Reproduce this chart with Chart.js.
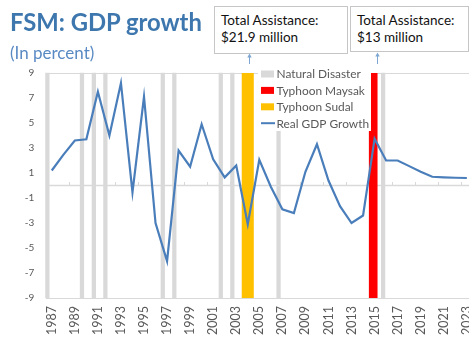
<!DOCTYPE html>
<html>
<head>
<meta charset="utf-8">
<script src="https://cdn.jsdelivr.net/npm/chart.js@4/dist/chart.umd.min.js"></script>
<style>
  html, body { margin: 0; padding: 0; background: #fff; overflow: hidden; }
  #wrap { position: relative; width: 469px; height: 337px; overflow: hidden; }
  #chart { position: absolute; left: 0; top: 0; }
  .title { position: absolute; left: 10px; top: 8px; font: bold 23.8px Lato, sans-serif; color: #3d77ae; white-space: nowrap; }
  .subtitle { position: absolute; left: 10px; top: 42px; font: 17px Lato, sans-serif; color: #5a8ac4; white-space: nowrap; }
  .note { position: absolute; top: 6px; border: 1px solid #c6c6c6; background: #fff; box-sizing: border-box;
          font: 13.5px Lato, sans-serif; color: #111; line-height: 17px; padding: 5px 0 0 6px; white-space: nowrap; }
  #arrows { position: absolute; left: 0; top: 0; }
</style>
</head>
<body>
<div id="wrap">
  <canvas id="chart" width="490" height="337"></canvas>
  <div class="title">FSM: GDP growth</div>
  <div class="subtitle">(In percent)</div>
  <div class="note" style="left:214px; width:134px; height:48px;">Total Assistance:<br>$21.9 million</div>
  <div class="note" style="left:350px; width:119px; height:46px;">Total Assistance:<br>$13 million</div>
  <svg id="arrows" width="469" height="80">
    <g stroke="#7ea6d3" stroke-width="1" fill="#7ea6d3">
      <line x1="249.5" y1="56" x2="249.5" y2="64"/>
      <path d="M247.3 57.5 L249.5 53.5 L251.7 57.5 Z" stroke="none"/>
      <line x1="377.5" y1="55" x2="377.5" y2="64"/>
      <path d="M375.3 56.5 L377.5 52.5 L379.7 56.5 Z" stroke="none"/>
    </g>
  </svg>
</div>
<script>
// Fiscal years on the horizontal axis
const years = [1987, 1988, 1989, 1990, 1991, 1992, 1993, 1994, 1995, 1996,
               1997, 1998, 1999, 2000, 2001, 2002, 2003, 2004, 2005, 2006,
               2007, 2008, 2009, 2010, 2011, 2012, 2013, 2014, 2015, 2016,
               2017, 2018, 2019, 2020, 2021, 2022, 2023];

// Real GDP growth, percent
const gdpGrowth = [1.2, 2.45, 3.6, 3.7, 7.5, 4.0, 8.2, -0.55, 7.1, -3.0,
                   -6.05, 2.8, 1.5, 4.9, 2.1, 0.65, 1.6, -3.1, 2.05, -0.1,
                   -1.9, -2.2, 1.1, 3.3, 0.4, -1.65, -3.0, -2.4, 3.75, 2.0,
                   2.0, 1.55, 1.1, 0.7, 0.65, 0.62, 0.6];

// Natural disaster events (position in years)
const naturalDisasters = [1986.62, 1989.62, 1990.65, 1991.65, 1996.63, 1997.63,
                          2001.66, 2002.66, 2006.67, 2015.74];
// Typhoon events (position in years)
const typhoonMaysak = [2014.88];
const typhoonSudal = [2004.0];

// Axis ticks
const xTickYears = [1987, 1989, 1991, 1993, 1995, 1997, 1999, 2001, 2003, 2005,
                    2007, 2009, 2011, 2013, 2015, 2017, 2019, 2021, 2023];
const yTicks = [-9, -7, -5, -3, -1, 1, 3, 5, 7, 9];
const yMin = -9, yMax = 9;

const band = xs => xs.map(x => ({ x: x, y: [yMin, yMax] }));

const GRID = '#d9d9d9';
const TEXT = '#595959';

// Zero line with small tick marks every two years
const zeroLine = {
  id: 'zeroLine',
  beforeDatasetsDraw(chart) {
    const { ctx, chartArea, scales } = chart;
    const y0 = scales.y.getPixelForValue(0);
    ctx.save();
    ctx.strokeStyle = GRID;
    ctx.lineWidth = 1.5;
    ctx.beginPath();
    ctx.moveTo(chartArea.left, y0);
    ctx.lineTo(chartArea.right, y0);
    ctx.stroke();
    ctx.lineWidth = 1;
    for (let i = 1; i < years.length; i += 2) {
      const x = Math.round(scales.x.getPixelForValue(years[i] + 0.5)) + 0.5;
      ctx.beginPath();
      ctx.moveTo(x, y0);
      ctx.lineTo(x, y0 - 3.5);
      ctx.stroke();
    }
    ctx.restore();
  }
};

// Legend drawn inside the plot
const insideLegend = {
  id: 'insideLegend',
  afterDraw(chart) {
    const { ctx } = chart;
    const x0 = 261, y0 = 74, step = 16.4;
    ctx.save();
    ctx.fillStyle = '#fff';
    ctx.fillRect(258, 66, 113, 65);
    ctx.font = '11.9px Lato, sans-serif';
    ctx.textBaseline = 'middle';
    chart.data.datasets.forEach((ds, i) => {
      const y = y0 + i * step;
      if (ds.type === 'line') {
        ctx.strokeStyle = ds.borderColor;
        ctx.lineWidth = 2;
        ctx.beginPath();
        ctx.moveTo(x0, y);
        ctx.lineTo(x0 + 14, y);
        ctx.stroke();
      } else {
        ctx.fillStyle = ds.backgroundColor;
        ctx.fillRect(x0, y - 3.5, 13, 7);
      }
      ctx.fillStyle = TEXT;
      ctx.fillText(ds.label, x0 + 15.5, y + 0.5);
    });
    ctx.restore();
  }
};

new Chart(document.getElementById('chart'), {
  type: 'line',
  data: {
    datasets: [
      { type: 'bar', label: 'Natural Disaster', data: band(naturalDisasters),
        backgroundColor: '#d9d9d9', barThickness: 3.6, grouped: false, order: 3, clip: false },
      { type: 'bar', label: 'Typhoon Maysak', data: band(typhoonMaysak),
        backgroundColor: '#ff0000', barThickness: 8, grouped: false, order: 2 },
      { type: 'bar', label: 'Typhoon Sudal', data: band(typhoonSudal),
        backgroundColor: '#ffc000', barThickness: 11.4, grouped: false, order: 2 },
      { type: 'line', label: 'Real GDP Growth',
        data: years.map((yr, i) => ({ x: yr, y: gdpGrowth[i] })),
        borderColor: '#4a7ebb', borderWidth: 2.2, pointRadius: 0, tension: 0, fill: false, order: 0 }
    ]
  },
  options: {
    responsive: false,
    animation: false,
    devicePixelRatio: 1,
    layout: { padding: { left: 0, top: 73, right: 12.8, bottom: 0 } },
    plugins: { legend: { display: false }, tooltip: { enabled: false } },
    scales: {
      x: {
        type: 'linear', position: 'bottom', min: 1986.5, max: 2023.5, offset: false,
        afterBuildTicks: s => { s.ticks = xTickYears.map(v => ({ value: v })); },
        afterFit: s => { s.height = 39; },
        grid: { display: false, drawTicks: false },
        border: { display: false },
        ticks: { autoSkip: false, minRotation: 90, maxRotation: 90, padding: 8,
                 color: TEXT, font: { family: 'Lato', size: 12.5 },
                 callback: v => String(v) }
      },
      y: {
        min: yMin, max: yMax,
        afterBuildTicks: s => { s.ticks = yTicks.map(v => ({ value: v })); },
        afterFit: s => { s.width = 46; },
        grid: { drawTicks: false, lineWidth: 1,
                color: c => (c.tick && (c.tick.value === yMin || c.tick.value === yMax)) ? GRID : 'rgba(0,0,0,0)' },
        border: { display: false },
        ticks: { padding: 11.7, color: TEXT, font: { family: 'Lato', size: 10 } }
      }
    }
  },
  plugins: [zeroLine, insideLegend]
});
</script>
</body>
</html>
